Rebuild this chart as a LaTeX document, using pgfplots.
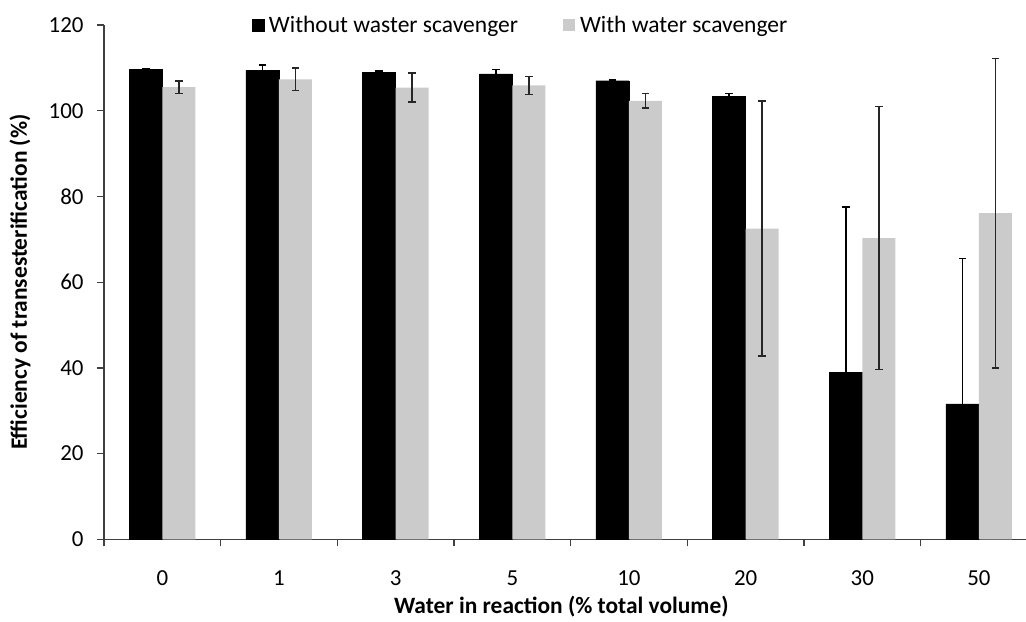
\documentclass[border=0pt]{standalone}
\usepackage{pgfplots}
\pgfplotsset{compat=1.18}
\usepackage{pgfplotstable}
\usepackage{fontspec}
\setmainfont{Carlito}

\definecolor{bargray}{RGB}{203,203,203}
\definecolor{axisgray}{RGB}{64,64,64}

% Efficiency of transesterification (%) with standard deviations
\pgfplotstableread{
pos without werr with gerr
0 109.7 0.0  105.5 1.5
1 109.5 1.1  107.3 2.6
2 109.0 0.2  105.4 3.4
3 108.6 1.0  105.9 2.1
4 107.0 0.2  102.3 1.7
5 103.4 0.6   72.5 29.7
6  38.9 38.6  70.3 30.7
7  31.6 33.9  76.1 36.1
}\efficiency

\newcommand{\chartfont}{\fontsize{23}{27}\selectfont}
\newcommand{\legendfont}{\fontsize{23.6}{28}\selectfont}
\newcommand{\labelfont}{\fontsize{23.5}{28}\selectfont\bfseries}
% half of a bar width, in category units
\newcommand{\halfbar}{0.14143}

\begin{document}
\begin{tikzpicture}
\useasboundingbox (0bp,0bp) rectangle (1026bp,-622bp);
\begin{axis}[
  at={(104bp,-539.3bp)}, anchor=south west,
  width=933.3bp, height=514.3bp, scale only axis,
  xmin=-0.5, xmax=7.5, ymin=0, ymax=120,
  ytick={0,20,...,120},
  xtick={0,...,7},
  xticklabels={0,1,3,5,10,20,30,50},
  minor xtick={-0.5,0.5,...,7.5},
  major x tick style={draw=none},
  axis x line*=bottom, axis y line*=left,
  axis line style={axisgray, line width=1.5bp, -},
  tick align=outside,
  major tick length=7bp, minor tick length=7bp,
  every tick/.style={axisgray, line width=1.3bp},
  /pgf/number format/assume math mode=true,
  tick label style={font=\chartfont},
  yticklabel style={xshift=-10bp},
  xticklabel style={yshift=-21bp},
  label style={font=\labelfont},
  xlabel={Water in reaction (\% total volume)},
  ylabel={Efficiency of transesterification (\%)},
  xlabel style={at={(axis description cs:0.49,-0.1316)}, anchor=center},
  ylabel style={at={(axis description cs:-0.09,0.5)}, anchor=center},
  legend columns=2,
  legend image code/.code={\fill[#1] (0bp,-6bp) rectangle (12bp,6bp);},
  legend style={at={(rel axis cs:0.4462,1.0)}, anchor=center,
    draw=none, fill=none, font=\legendfont, inner sep=0pt,
    /tikz/every odd column/.append style={column sep=3bp},
    /tikz/every even column/.append style={column sep=43bp}},
]
\addplot[ybar, bar width=33bp, bar shift=0pt, fill=black, draw=black,
  error bars/.cd, y dir=both, y explicit,
  error bar style={black, line width=1.6bp},
  error mark options={black, line width=1.6bp, mark size=3.7bp, rotate=90}]
  table[x expr=\thisrow{pos}-\halfbar, y=without, y error=werr] {\efficiency};
\addlegendentry{Without waster scavenger}
\addplot[ybar, bar width=33bp, bar shift=0pt, fill=bargray, draw=none,
  error bars/.cd, y dir=both, y explicit,
  error bar style={black!85, line width=1.6bp},
  error mark options={black!85, line width=1.6bp, mark size=3.7bp, rotate=90}]
  table[x expr=\thisrow{pos}+\halfbar, y=with, y error=gerr] {\efficiency};
\addlegendentry{With water scavenger}
\end{axis}
\end{tikzpicture}
\end{document}
